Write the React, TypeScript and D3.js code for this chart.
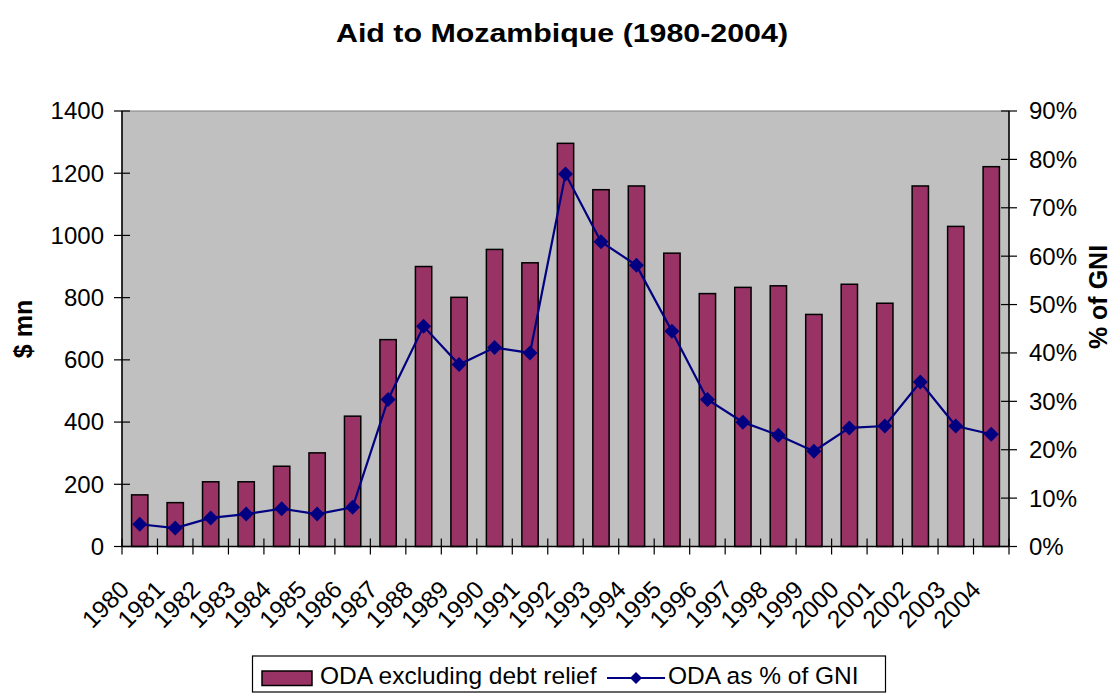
import * as d3 from 'd3';

const years = [
  '1980', '1981', '1982', '1983', '1984', '1985', '1986', '1987', '1988', '1989',
  '1990', '1991', '1992', '1993', '1994', '1995', '1996', '1997', '1998', '1999',
  '2000', '2001', '2002', '2003', '2004',
];

// ODA excluding debt relief, $ mn
const odaValues = [
  166, 141, 208, 208, 258, 301, 419, 665, 900, 801,
  955, 912, 1296, 1147, 1159, 943, 813, 833, 838, 746,
  843, 782, 1159, 1029, 1221,
];

// ODA as % of GNI
const gniShare = [
  4.6, 3.8, 5.9, 6.7, 7.8, 6.7, 8.1, 30.4, 45.5, 37.6,
  41.1, 40.0, 77.0, 63.0, 58.1, 44.5, 30.4, 25.7, 23.0, 19.7,
  24.5, 24.9, 34.0, 24.9, 23.2,
];

const leftTicks = [0, 200, 400, 600, 800, 1000, 1200, 1400];
const rightTicks = [0, 10, 20, 30, 40, 50, 60, 70, 80, 90];

const W = 1114;
const H = 695;
const plot = { left: 122, right: 1009, top: 111, bottom: 546.5 };
const FONT = '"Liberation Sans", Arial, sans-serif';

export default function App() {
  const x = d3.scaleBand<string>()
    .domain(years)
    .range([plot.left, plot.right])
    .paddingInner(0)
    .paddingOuter(0);
  const yLeft = d3.scaleLinear().domain([0, 1400]).range([plot.bottom, plot.top]);
  const yRight = d3.scaleLinear().domain([0, 90]).range([plot.bottom, plot.top]);

  const barW = x.bandwidth() * 0.46;
  const cx = (y: string) => (x(y) as number) + x.bandwidth() / 2;

  const line = d3.line<number>()
    .x((_, i) => cx(years[i]))
    .y(d => yRight(d));

  const diamond = (px: number, py: number, r: number) =>
    `M${px},${py - r}L${px + r},${py}L${px},${py + r}L${px - r},${py}Z`;

  const boundaries = years.map(y => x(y) as number).concat([plot.right]);

  return (
    <svg width={W} height={H} style={{ position: 'absolute', left: 0, top: 0, background: '#fff' }}
      fontFamily={FONT}>
      {/* title */}
      <text x={562} y={42} textAnchor="middle" fontWeight="bold" fontSize={25}
        textLength={452} lengthAdjust="spacingAndGlyphs">Aid to Mozambique (1980-2004)</text>

      {/* plot area */}
      <rect x={plot.left} y={plot.top} width={plot.right - plot.left} height={plot.bottom - plot.top}
        fill="#C0C0C0" stroke="#808080" strokeWidth={1} />

      {/* bars */}
      {years.map((y, i) => (
        <rect key={y} x={cx(y) - barW / 2} y={yLeft(odaValues[i])} width={barW}
          height={plot.bottom - yLeft(odaValues[i])} fill="#993366" stroke="#000" strokeWidth={1.5} />
      ))}

      {/* line */}
      <path d={line(gniShare) as string} fill="none" stroke="#000080" strokeWidth={2.2} />
      {gniShare.map((v, i) => (
        <path key={i} d={diamond(cx(years[i]), yRight(v), 7.5)} fill="#000080" />
      ))}

      {/* left axis */}
      <line x1={plot.left} x2={plot.left} y1={plot.top} y2={plot.bottom} stroke="#000" strokeWidth={1.5} />
      {leftTicks.map(t => (
        <g key={t}>
          <line x1={plot.left - 8} x2={plot.left + 8} y1={yLeft(t)} y2={yLeft(t)} stroke="#000" strokeWidth={1.2} />
          <text x={104} y={yLeft(t)} dy="0.35em" textAnchor="end" fontSize={24}>{t}</text>
        </g>
      ))}

      {/* right axis */}
      <line x1={plot.right} x2={plot.right} y1={plot.top} y2={plot.bottom} stroke="#000" strokeWidth={1.5} />
      {rightTicks.map(t => (
        <g key={t}>
          <line x1={plot.right - 8} x2={plot.right + 8} y1={yRight(t)} y2={yRight(t)} stroke="#000" strokeWidth={1.2} />
          <text x={1029} y={yRight(t)} dy="0.35em" textAnchor="start" fontSize={24}>{t}%</text>
        </g>
      ))}

      {/* x axis */}
      <line x1={plot.left} x2={plot.right} y1={plot.bottom} y2={plot.bottom} stroke="#000" strokeWidth={1.5} />
      {boundaries.map((b, i) => (
        <line key={i} x1={b} x2={b} y1={plot.bottom - 8} y2={plot.bottom + 8} stroke="#000" strokeWidth={1.2} />
      ))}
      {years.map(y => (
        <text key={y} transform={`translate(${cx(y) - 9},${591}) rotate(-45)`} textAnchor="end" fontSize={24.5}>{y}</text>
      ))}

      {/* axis titles */}
      <text transform="translate(31.5,329) rotate(-90)" textAnchor="middle" fontWeight="bold" fontSize={25}>$ mn</text>
      <text transform="translate(1107,297) rotate(-90)" textAnchor="middle" fontWeight="bold" fontSize={25}>% of GNI</text>

      {/* legend */}
      <rect x={252.5} y={656} width={633} height={36} fill="#fff" stroke="#000" strokeWidth={1.2} />
      <rect x={262} y={671} width={50} height={14.5} fill="#993366" stroke="#000" strokeWidth={1.5} />
      <text x={320} y={683.5} fontSize={24.5}>ODA excluding debt relief</text>
      <line x1={607} x2={665} y1={678} y2={678} stroke="#000080" strokeWidth={2} />
      <path d={diamond(636, 678, 6)} fill="#000080" />
      <text x={668} y={683.5} fontSize={24.5}>ODA as % of GNI</text>
    </svg>
  );
}
